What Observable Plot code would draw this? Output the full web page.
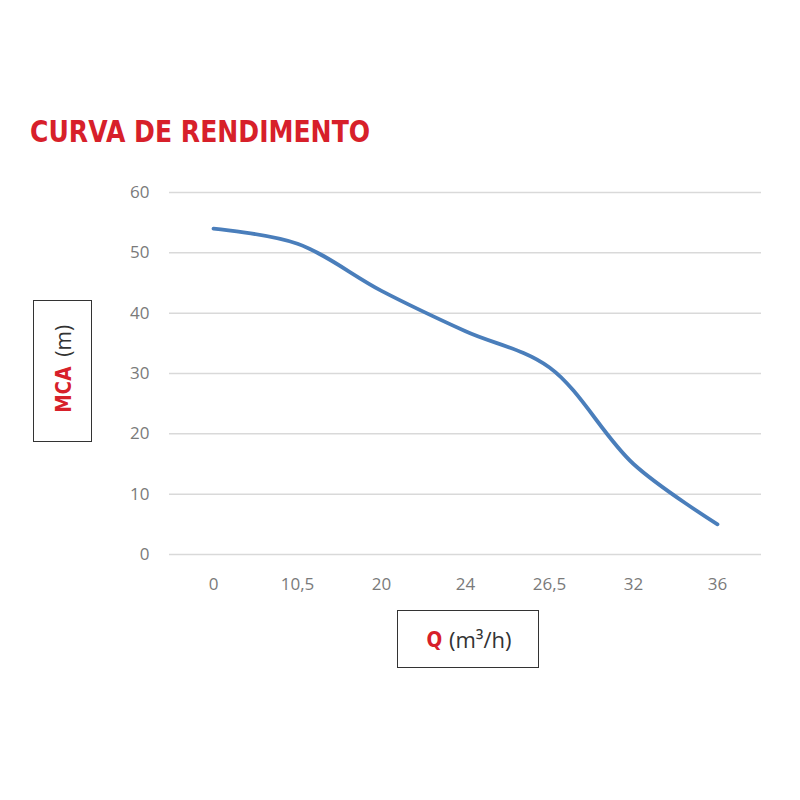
<!DOCTYPE html>
<html>
<head>
<meta charset="utf-8">
<script src="https://cdn.jsdelivr.net/npm/d3@7"></script>
<script src="https://cdn.jsdelivr.net/npm/@observablehq/plot@0.6"></script>
<style>
  html, body { margin: 0; padding: 0; background: #fff; }
  #wrap { position: relative; width: 800px; height: 800px; overflow: hidden; }
  #title { position: absolute; left: 30px; top: 113px; font-family: "DejaVu Sans", sans-serif; font-weight: bold; font-size: 31px; color: #d7202a; white-space: nowrap; transform: scaleX(0.81); transform-origin: left center; }
  #ybox { position: absolute; left: 33px; top: 300px; width: 57px; height: 140px; border: 1.5px solid #333; box-sizing: content-box; }
  #ylab { position: absolute; left: 50%; top: 50%; transform: translate(-50%, -50%) rotate(-90deg); white-space: nowrap; font-family: "Open Sans", sans-serif; font-size: 21px; color: #333; }
  #xbox { position: absolute; left: 397px; top: 610px; width: 140px; height: 56px; border: 1.5px solid #333; box-sizing: content-box; display: flex; align-items: center; justify-content: center; font-family: "Open Sans", sans-serif; font-size: 22px; color: #333; }
  .red { color: #d7202a; font-weight: bold; font-family: "DejaVu Sans", sans-serif; font-size: 22px; display: inline-block; transform: scaleX(0.84); }
  #chart { position: absolute; left: 0; top: 0; }
</style>
</head>
<body>
<div id="wrap">
  <div id="chart"></div>
  <div id="title">CURVA DE RENDIMENTO</div>
  <div id="ybox"><div id="ylab"><span class="red">MCA</span> (m)</div></div>
  <div id="xbox"><span class="red">Q</span>&nbsp;(m³/h)</div>
</div>
<script>
const flowLabels = ["0", "10,5", "20", "24", "26,5", "32", "36"];
const headValues = [54, 51.5, 43.7, 37, 31, 15, 5];
const yTicks = [0, 10, 20, 30, 40, 50, 60];

const data = flowLabels.map((q, i) => ({q, h: headValues[i]}));

const chart = Plot.plot({
  width: 800,
  height: 800,
  marginLeft: 169,
  marginRight: 39,
  marginTop: 192,
  marginBottom: 246,
  style: { fontFamily: "'Open Sans', sans-serif", fontSize: "17px", color: "#7a7a7a", background: "transparent" },
  x: { type: "band", domain: flowLabels, padding: 0, label: null, tickSize: 0, tickPadding: 23 },
  y: { domain: [0, 60], ticks: yTicks, label: null, tickSize: 0, tickPadding: 20 },
  marks: [
    Plot.ruleY(yTicks, { stroke: "#d9d9d9", strokeWidth: 1.5 }),
    Plot.line(data, { x: "q", y: "h", stroke: "#4a7ebb", strokeWidth: 3.8, curve: "catmull-rom", strokeLinecap: "round" })
  ]
});
document.getElementById("chart").appendChild(chart);
</script>
</body>
</html>
